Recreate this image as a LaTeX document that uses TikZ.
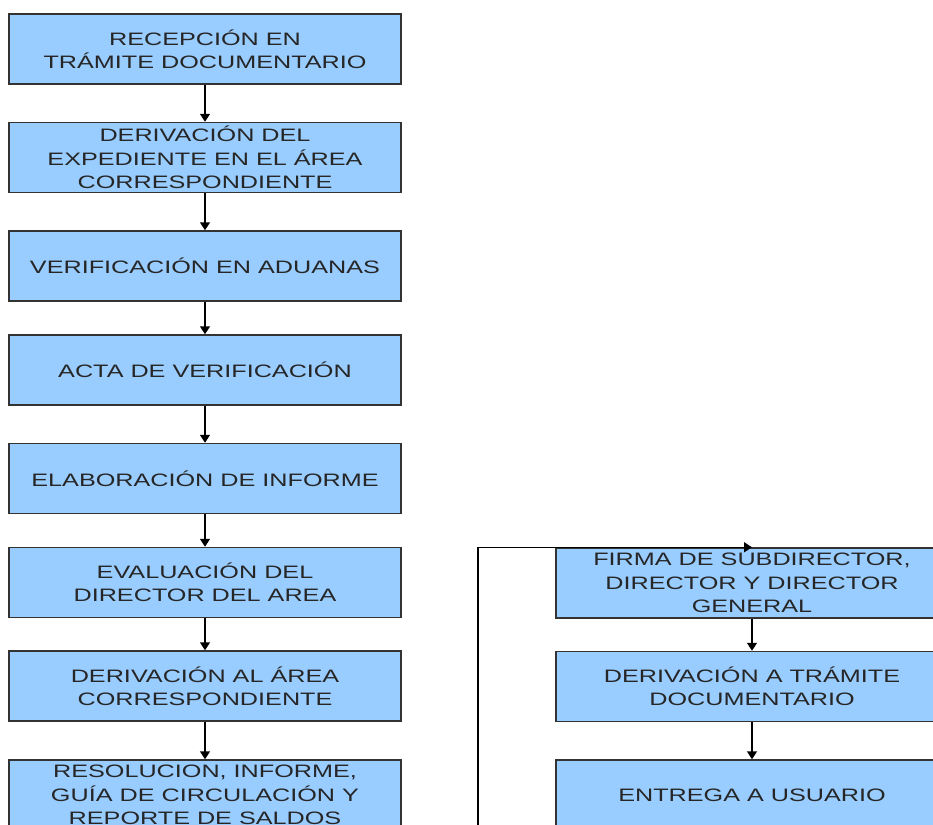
\documentclass[tikz,border=0pt]{standalone}
\usepackage{fontspec}
\setmainfont[FakeStretch=1.4]{Liberation Sans}
\usetikzlibrary{arrows.meta}
\definecolor{cajaazul}{HTML}{99CCFF}
\definecolor{bordecaja}{HTML}{333333}
\tikzset{
  paso/.style={draw=bordecaja,line width=1.1pt,fill=cajaazul,
    minimum width=294pt,minimum height=52.5pt,inner sep=0pt,align=center,
    text=black!85,font=\fontsize{13.5}{17.5}\selectfont},
  flecha/.style={line width=1.1pt,-{Triangle[width=7.5pt,length=6pt]}}
}

\begin{document}
\begin{tikzpicture}[x=0.75pt,y=-0.75pt]
\useasboundingbox (0,0) rectangle (933,825);
\clip (0,0) rectangle (933,825);
% columna izquierda
\node[paso] (recepcion) at (205,49) {RECEPCIÓN EN\\TRÁMITE DOCUMENTARIO};
\node[paso] (derivexp) at (205,157.5) {DERIVACIÓN DEL\\EXPEDIENTE EN EL ÁREA\\CORRESPONDIENTE};
\node[paso] (verific) at (205,266) {VERIFICACIÓN EN ADUANAS};
\node[paso] (acta) at (205,370) {ACTA DE VERIFICACIÓN};
\node[paso] (informe) at (205,478.5) {ELABORACIÓN DE INFORME};
\node[paso] (evalua) at (205,582.5) {EVALUACIÓN DEL\\DIRECTOR DEL AREA};
\node[paso] (derivarea) at (205,686) {DERIVACIÓN AL ÁREA\\CORRESPONDIENTE};
\node[paso] (resol) at (205,795) {RESOLUCION, INFORME,\\GUÍA DE CIRCULACIÓN Y\\REPORTE DE SALDOS};
% columna derecha
\node[paso] (firma) at (752,583) {FIRMA DE SUBDIRECTOR,\\DIRECTOR Y DIRECTOR\\GENERAL};
\node[paso] (derivtram) at (752,686.5) {DERIVACIÓN A TRÁMITE\\DOCUMENTARIO};
\node[paso] (entrega) at (752,795) {ENTREGA A USUARIO};
\coordinate (vuelta) at (478,900);

\draw[flecha] (recepcion) -- (derivexp);
\draw[flecha] (derivexp) -- (verific);
\draw[flecha] (verific) -- (acta);
\draw[flecha] (acta) -- (informe);
\draw[flecha] (informe) -- (evalua);
\draw[flecha] (evalua) -- (derivarea);
\draw[flecha] (derivarea) -- (resol);
\draw[flecha] (firma) -- (derivtram);
\draw[flecha] (derivtram) -- (entrega);
\draw[flecha] (vuelta) |- (firma.north);
\end{tikzpicture}
\end{document}
